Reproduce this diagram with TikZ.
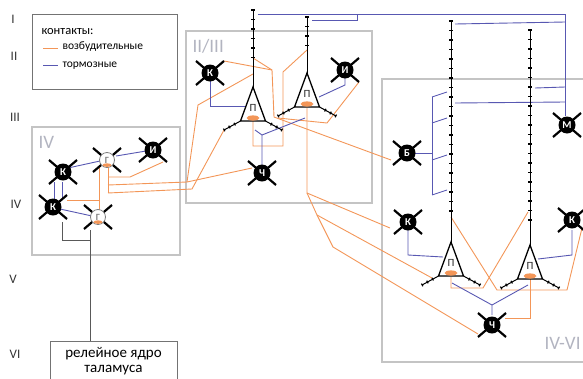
\documentclass[tikz,border=0pt]{standalone}
\usepackage{fontspec}
\setmainfont{Carlito}
\usetikzlibrary{calc, decorations.markings}

\definecolor{exc}{RGB}{243,150,88}
\definecolor{inh}{RGB}{88,88,178}
\definecolor{frame}{RGB}{196,196,196}
\definecolor{areaTxt}{RGB}{178,180,192}

\tikzset{
    cellK/.style={circle, fill=black, inner sep=0pt, minimum size=17pt, text=white, font=\bfseries\fontsize{10.5}{10.5}\selectfont},
    cellG/.style={circle, draw=gray, fill=white, line width=0.8pt, inner sep=0pt, minimum size=15pt, text=gray, font=\bfseries\fontsize{9.5}{9.5}\selectfont},
    arm/.style={line width=2.2pt, black},
    excEdge/.style={exc, line width=0.9pt},
    inhEdge/.style={inh, line width=0.9pt},
    relayEdge/.style={black!65, line width=0.9pt},
    areaBox/.style={draw=frame, line width=2pt},
    infoBox/.style={draw=black!55, line width=0.8pt},
    areaLabel/.style={text=areaTxt, font=\fontsize{19}{19}\selectfont, anchor=west},
    layerLabel/.style={text=black!80, font=\fontsize{13}{13}\selectfont},
    spined/.style={postaction={decorate}, decoration={markings, mark=between positions 0 and 1 step 9.5pt with {\draw[line width=1.2pt] (0,-1.8) -- (0,1.8);}}},
    basal/.style={postaction={decorate}, decoration={markings, mark=between positions 0.35 and 1 step 0.32 with {\draw[line width=1.2pt] (0,-1.5) -- (0,1.5);}}},
}
% cell with four crossing processes: style, name, position, letter
\newcommand{\drawCell}[4][cellK]{
    \path[shift={(#3)}] (-14,-12) coordinate (#2-nw) (14,-12) coordinate (#2-ne)
        (-14,12) coordinate (#2-sw) (14,12) coordinate (#2-se);
    \draw[arm] (#2-nw) -- (#2-se) (#2-ne) -- (#2-sw);
    \node[#1] (#2) at (#3) {#4};
}
\newcommand{\drawGCell}[2]{
    \drawCell[cellG]{#1}{#2}{Г}
    \fill[exc] ($(#1.south)+(0,-2.8)$) ellipse (4.5 and 1.8);
}
% pyramidal cell: name, apex, length of the apical dendrite
\newcommand{\drawPyr}[3]{
    \begin{scope}[shift={(#2)}]
        \coordinate (#1-top) at (0,-#3);
        \coordinate (#1-apex) at (0,0);
        \coordinate (#1-soma) at (0,31);
        \coordinate (#1-bl) at (-12.5,34);
        \coordinate (#1-br) at (12.5,34);
        \coordinate (#1-tl) at (-29,43);
        \coordinate (#1-tr) at (29,43);
        \draw[line width=1pt, spined] (#1-top) -- (0,-22);
        \draw[line width=1pt] (0,-22) -- (#1-apex);
        \draw[line width=1pt, basal] (#1-bl) -- (#1-tl);
        \draw[line width=1pt, basal] (#1-br) -- (#1-tr);
        \draw[line width=1.3pt, fill=white] (#1-apex) -- (#1-bl) -- (#1-br) -- cycle;
        \fill[exc] (#1-soma) ellipse (6.5 and 2.6);
        \node[font=\fontsize{11}{11}\selectfont, text=black!85] (#1) at (0,21) {П};
    \end{scope}
}

\begin{document}
\begin{tikzpicture}[x=1pt, y=-1pt]
    \useasboundingbox (0,0) rectangle (583,378);
    \clip (0,0) rectangle (583,378);

    % layers
    \node[layerLabel] (lI) at (13,19) {I};
    \node[layerLabel] (lII) at (14,56) {II};
    \node[layerLabel] (lIII) at (15,117) {III};
    \node[layerLabel] (lIV) at (16,204) {IV};
    \node[layerLabel] (lV) at (13,279) {V};
    \node[layerLabel] (lVI) at (15,354) {VI};

    % legend
    \draw[infoBox] (32,14) rectangle (177,89);
    \node[anchor=west, font=\fontsize{12.5}{13}\selectfont] (legTitle) at (38,32) {контакты:};
    \draw[excEdge] (43,48) -- (58,48);
    \node[anchor=west, font=\fontsize{11.5}{12}\selectfont] (legExc) at (59,47) {возбудительные};
    \draw[inhEdge] (43,65) -- (58,65);
    \node[anchor=west, font=\fontsize{11.5}{12}\selectfont] (legInh) at (59,66) {тормозные};

    % areas
    \draw[areaBox] (186,31) rectangle (372,203);
    \draw[areaBox] (32,127) rectangle (180,255);
    \draw[areaBox] (382,79) rectangle (600,362);
    \node[areaLabel] (aII) at (189,46) {II/III};
    \node[areaLabel] (aIV) at (35,142) {IV};
    \node[areaLabel] (aV) at (541,343) {IV-VI};

    % thalamus
    \draw[infoBox] (50,341) rectangle (177,395);
    \node[align=center, font=\fontsize{15}{14.5}\selectfont] (thal) at (113.5,361) {релейное ядро\\таламуса};
    \draw[relayEdge] (90,230) -- (90,341);
    \draw[relayEdge] (62,222) -- (62,240) -- (90,240);

    % excitatory contacts
    \draw[excEdge] (108,166) -- (108,193);
    \draw[excEdge] (99,168) -- (99,212);
    \draw[excEdge] (67,200) -- (99,200);
    \draw[excEdge] (108,177) -- (130,177) -- (163,162);
    \draw[excEdge] (108,185) -- (187,182) -- (252,168);
    \draw[excEdge] (187,182) -- (198,105) -- (253,74);
    \draw[excEdge] (108,193) -- (192,189) -- (224,130);
    \draw[excEdge] (224,61) -- (272,70) -- (274,117) -- (391,160);
    \draw[excEdge] (253,58) -- (272,70);
    \draw[excEdge] (253,118) -- (253,146) -- (283,146) -- (283,72) -- (307,50);
    \draw[excEdge] (359,82) -- (327,123) -- (278,118);
    \draw[excEdge] (307,108) -- (307,193) -- (390,228);
    \draw[excEdge] (307,193) -- (317,215) -- (432,278);
    \draw[excEdge] (317,215) -- (333,247) -- (478,334);
    \draw[excEdge] (451,277) -- (451,288) -- (483,288) -- (528,212);
    \draw[excEdge] (451,217) -- (497,290) -- (567,290) -- (582,228);
    \draw[excEdge] (530,278) -- (530,318) -- (505,318);

    % inhibitory contacts
    \draw[inhEdge] (68,168) -- (100,161);
    \draw[inhEdge] (116,156) -- (146,151);
    \draw[inhEdge] (54,182) -- (54,199) (62,182) -- (62,199);
    \draw[inhEdge] (60,209) -- (92,216);
    \draw[inhEdge] (210,81) -- (210,106) -- (245,106);
    \draw[inhEdge] (345,78) -- (345,85) -- (319,97);
    \draw[inhEdge] (262,165) -- (262,135) -- (255,130) (262,135) -- (305,118);
    \draw[inhEdge] (258,14) -- (565,14) -- (565,116);
    \draw[inhEdge] (312,20) -- (357,20) -- (357,14);
    \draw[inhEdge] (455,24) -- (565,22);
    \draw[inhEdge] (535,88) -- (565,87);
    \draw[inhEdge] (455,103) -- (565,102);
    \draw[inhEdge] (415,153) -- (432,153);
    \draw[inhEdge] (432,97) -- (432,195);
    \foreach \y in {97,123,160,195}
        \draw[inhEdge] (432,\y) -- (447,\y-5);
    \draw[inhEdge] (408,230) -- (408,255) -- (443,257);
    \draw[inhEdge] (572,230) -- (572,255) -- (538,259);
    \draw[inhEdge] (492,315) -- (492,305) -- (452,283) (492,305) -- (528,285);

    % pyramidal cells
    \drawPyr{p1}{253,87}{77}
    \drawPyr{p2}{307,73}{56}
    \drawPyr{p3}{451,242}{221}
    \drawPyr{p4}{530,245}{215}

    % interneurons
    \drawCell{k1}{63,172}{К}
    \drawCell{k2}{53,207}{К}
    \drawGCell{g1}{107,160}
    \drawGCell{g2}{98,217}
    \drawCell{i1}{153,150}{И}
    \drawCell{k3}{210,73}{К}
    \drawCell{i2}{345,70}{И}
    \drawCell{ch1}{262,173}{Ч}
    \drawCell{b1}{407,153}{Б}
    \drawCell{m1}{567,125}{М}
    \drawCell{k4}{408,222}{К}
    \drawCell{k5}{572,220}{К}
    \drawCell{ch2}{492,325}{Ч}
\end{tikzpicture}
\end{document}
